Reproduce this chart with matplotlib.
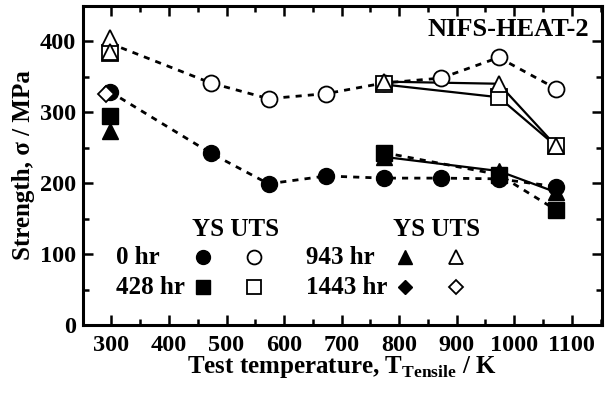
import matplotlib
matplotlib.use("Agg")
import matplotlib.pyplot as plt
from matplotlib.ticker import MultipleLocator

plt.rcParams['font.family'] = ['Liberation Serif', 'DejaVu Serif']
plt.rcParams['font.weight'] = 'bold'
plt.rcParams['mathtext.fontset'] = 'custom'
plt.rcParams['mathtext.rm'] = 'Liberation Serif:bold'
plt.rcParams['mathtext.bf'] = 'Liberation Serif:bold'

# ---- data ----
T0 = [297, 473, 573, 673, 773, 873, 973, 1073]
YS0 = [329, 242, 199, 210, 207, 207, 206, 195]
UTS0 = [397, 341, 319, 326, 341, 348, 377, 333]

T428 = [297, 773, 973, 1073]
YS428 = [294, 243, 212, 162]
UTS428 = [383, 339, 321, 252]

T943 = [297, 773, 973, 1073]
YS943 = [273, 237, 217, 187]
UTS943 = [405, 343, 340, 252]
T943_extra = [297]
UTS943_extra = [385]

T1443 = [290]
UTS1443 = [326]

xticks = [300, 400, 500, 600, 700, 800, 900, 1000, 1100]
yticks = [0, 100, 200, 300, 400]

fig = plt.figure(figsize=(6.15, 3.94), dpi=100)
ax = fig.add_axes([82.7/615, 1-325/394, (601.7-82.7)/615, (325-5.7)/394])

dash = (0, (2.2, 2.2))
lw_d = 2.0
lw_s = 1.6

# 0 hr lines
ax.plot(T0, UTS0, linestyle=dash, color='black', lw=lw_d, zorder=1)
ax.plot(T0, YS0, linestyle=dash, color='black', lw=lw_d, zorder=1)
ax.plot(T0[1:], UTS0[1:], 'o', ms=11.5, mfc='white', mec='black', mew=1.3, zorder=2)
ax.plot(T0, YS0, 'o', ms=11.5, color='black', zorder=2)

# 428 hr
ax.plot(T428[1:], YS428[1:], linestyle=dash, color='black', lw=lw_d, zorder=1)
ax.plot(T428[1:], UTS428[1:], '-', color='black', lw=lw_s, zorder=1)
ax.plot(T428, UTS428, 's', ms=11.5, mfc='white', mec='black', mew=1.3, zorder=3)
ax.plot(T428, YS428, 's', ms=11.5, color='black', zorder=3)

# 943 hr
ax.plot(T943[1:], YS943[1:], '-', color='black', lw=lw_s, zorder=1)
ax.plot(T943[1:], UTS943[1:], '-', color='black', lw=lw_s, zorder=1)
ax.plot(T943, UTS943, '^', ms=12, mfc='white', mec='black', mew=1.3, zorder=4)
ax.plot(T943_extra, UTS943_extra, '^', ms=12, mfc='white', mec='black', mew=1.3, zorder=4)
ax.plot(T943, YS943, '^', ms=12, color='black', zorder=1.5)

# 1443 hr
ax.plot(T1443, UTS1443, 'D', ms=8, mfc='white', mec='black', mew=1.3, zorder=4)

ax.set_xlim(250, 1152)
ax.set_ylim(0, 450)
ax.set_xticks(xticks)
ax.set_yticks(yticks)
ax.xaxis.set_minor_locator(MultipleLocator(50))
ax.yaxis.set_minor_locator(MultipleLocator(50))
ax.tick_params(which='both', direction='in', top=True, right=True, width=1.8,
               labelsize=17.5)
ax.tick_params(axis='x', which='both', pad=7)
ax.tick_params(axis='y', which='both', pad=5)
ax.tick_params(which='major', length=7)
ax.tick_params(which='minor', length=4)
for s in ax.spines.values():
    s.set_linewidth(2.2)
for lab in ax.get_xticklabels() + ax.get_yticklabels():
    lab.set_fontweight('bold')

ax.set_ylabel('Strength, σ / MPa', fontsize=18, fontweight='bold', labelpad=3)
ax.set_xlabel(r'Test temperature, T$_{\mathrm{Tensile}}$ / K', fontsize=18,
              fontweight='bold', labelpad=-1)

ax.text(0.975, 0.925, 'NIFS-HEAT-2', transform=ax.transAxes, ha='right', va='center',
        fontsize=19, fontweight='bold')

# manual legend
def px(xp, yp):
    return ((xp-82.7)/519.0, (325-yp)/319.3)

fs = 18
for (cx, cy) in [(236, 229), (437, 229)]:
    ax.text(*px(cx, cy), 'YS UTS', transform=ax.transAxes, ha='center', va='center',
            fontsize=fs, fontweight='bold')
rows = [
    ('0 hr', 116, 257, 203, 254, 'o'),
    ('428 hr', 116, 287, 203, 254, 's'),
    ('943 hr', 306, 257, 405, 456, '^'),
    ('1443 hr', 306, 287, 405, 456, 'D'),
]
for label, lx, ly, m1, m2, mk in rows:
    ax.text(*px(lx, ly), label, transform=ax.transAxes, ha='left', va='center',
            fontsize=fs, fontweight='bold')
    ms = 7.5 if mk == 'D' else 10
    ax.plot(*px(m1, ly), mk, ms=ms, color='black', transform=ax.transAxes, clip_on=False)
    ax.plot(*px(m2, ly), mk, ms=ms, mfc='white', mec='black', mew=1.3,
            transform=ax.transAxes, clip_on=False)

fig.savefig('out.png', dpi=100)
